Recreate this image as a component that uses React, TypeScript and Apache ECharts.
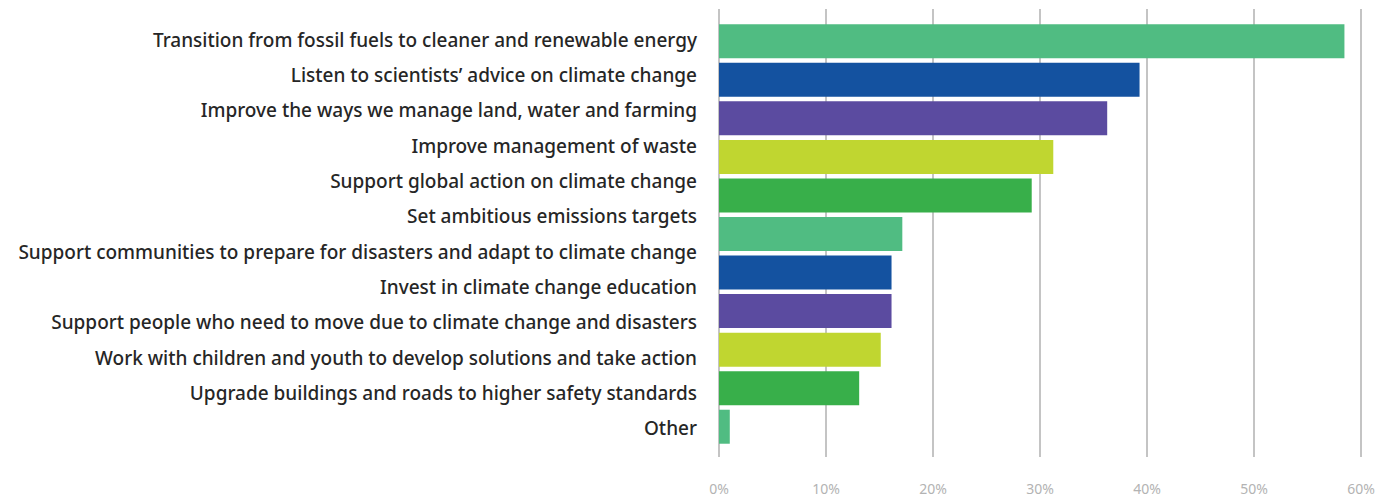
import React, { useEffect, useRef } from "react";
import * as echarts from "echarts";

const categories = [
  "Transition from fossil fuels to cleaner and renewable energy",
  "Listen to scientists’ advice on climate change",
  "Improve the ways we manage land, water and farming",
  "Improve management of waste",
  "Support global action on climate change",
  "Set ambitious emissions targets",
  "Support communities to prepare for disasters and adapt to climate change",
  "Invest in climate change education",
  "Support people who need to move due to climate change and disasters",
  "Work with children and youth to develop solutions and take action",
  "Upgrade buildings and roads to higher safety standards",
  "Other",
];

// Bars as drawn in the reference (11 bars)
const barValues = [58, 39, 36, 31, 29, 17, 16, 16, 15, 13, 1];
const palette = ["#50BC82", "#1452A0", "#5B4BA0", "#C0D630", "#38AF4A"];
const xTicks = [0, 10, 20, 30, 40, 50, 60];

export default function App() {
  const ref = useRef<HTMLDivElement>(null);
  useEffect(() => {
    if (!ref.current) return;
    const chart = echarts.init(ref.current, null, { renderer: "svg" });
    const barIdx = barValues.map((_, i) => String(i));
    chart.setOption({
      animation: false,
      grid: [
        { left: 719, right: 12, top: 9, bottom: 41 },
        { left: 719, right: 12, top: 22, bottom: 52 },
      ],
      xAxis: [
        {
          type: "value",
          gridIndex: 0,
          min: xTicks[0],
          max: xTicks[xTicks.length - 1],
          interval: 10,
          axisLine: { show: false },
          axisTick: { show: false },
          splitLine: { show: true, lineStyle: { color: "#c4c4c4", width: 2 } },
          axisLabel: {
            formatter: "{value}%",
            color: "#b3b3b3",
            fontSize: 14,
            fontFamily: "Noto Sans",
            margin: 24,
          },
        },
        {
          type: "value",
          gridIndex: 1,
          min: 0,
          max: 60,
          show: false,
        },
      ],
      yAxis: [
        { type: "category", gridIndex: 0, data: ["x"], show: false },
        {
          type: "category",
          gridIndex: 1,
          data: categories,
          inverse: true,
          axisLine: { show: false },
          axisTick: { show: false },
          axisLabel: {
            color: "#262626",
            fontSize: 19,
            fontWeight: 500,
            fontFamily: "Noto Sans",
            margin: 22,
          },
        },
        {
          type: "category",
          gridIndex: 1,
          data: barIdx,
          inverse: true,
          show: false,
        },
      ],
      series: [
        {
          type: "bar",
          xAxisIndex: 1,
          yAxisIndex: 2,
          barWidth: 34,
          data: barValues.map((v, i) => ({
            value: v,
            itemStyle: { color: palette[i % palette.length] },
          })),
        },
      ],
    });
    return () => chart.dispose();
  }, []);
  return <div ref={ref} style={{ width: 1378, height: 498, position: "absolute", left: 0, top: 0 }} />;
}
